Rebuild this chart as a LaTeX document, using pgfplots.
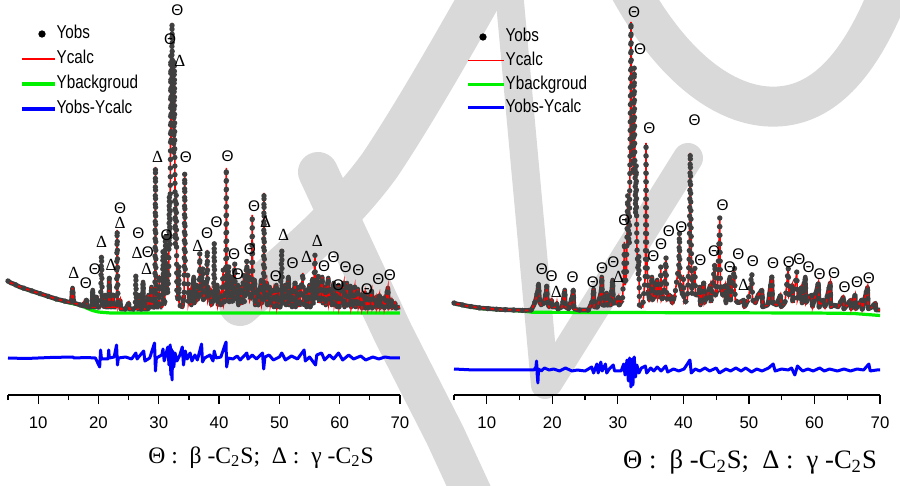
\documentclass[border=0pt]{standalone}
\usepackage{pgfplots}
\pgfplotsset{compat=1.18}
\usepackage{pgfplotstable}
\usepackage{fontspec}
\setmainfont{Liberation Sans}
\newfontfamily\seriffont{Liberation Serif}
\definecolor{wm}{RGB}{217,217,217}
\definecolor{obsgray}{RGB}{64,64,64}
\definecolor{bgreen}{RGB}{0,240,0}
\definecolor{dblue}{RGB}{0,0,255}
\newcommand\tickfont{\fontsize{8.4bp}{10bp}\selectfont}
\newcommand\legfont{\fontsize{9.3bp}{11bp}\selectfont}
\newcommand\Tlab[2]{\node[font=\fontsize{7.7bp}{9bp}\selectfont,inner sep=0pt] at (axis cs:#1,#2) {Θ};}
\newcommand\Dlab[2]{\node[font=\seriffont\fontsize{8.5bp}{9bp}\selectfont,inner sep=0pt] at (axis cs:#1,#2) {Δ};}
\newcommand\LS[1]{\scalebox{0.82}[1]{#1}}

\pgfplotstableread{
x y
5.0 114
5.5 112
6.0 111
7.0 108
8.0 106
9.0 104
10.0 102
11.0 100
12.0 98
13.0 96
14.0 94.5
15.0 93
15.5 92.5
15.6 100
15.7 107
15.8 100
15.9 92
16.5 91
17.0 90
17.5 89
17.6 92
17.7 89
17.9 89
18.0 95
18.1 88
18.9 88
19.05 105
19.2 88
19.6 88
19.7 98
19.8 88
20.35 88
20.45 125
20.5 140
20.55 125
20.65 90
21.0 88
21.1 100
21.2 88
21.7 88
21.8 117
21.9 88
22.3 88
22.4 100
22.5 88
23.0 88
23.05 140
23.1 165
23.15 140
23.25 88
23.6 95
23.7 86
24.5 86
25.0 92
25.1 86
26.1 86
26.2 121
26.3 86
26.6 86
26.7 100
26.8 86
27.3 86
27.4 113
27.5 86
28.2 86
28.3 100
28.4 88
28.7 88
28.8 108
28.9 88
29.35 88
29.4 160
29.45 228
29.5 160
29.55 88
30.0 88
30.1 120
30.2 88
30.6 88
30.7 145
30.8 90
31.0 92
31.1 160
31.2 100
31.35 130
31.45 100
31.65 120
31.75 200
31.85 150
31.95 250
32.0 340
32.05 250
32.15 300
32.2 372
32.28 280
32.4 300
32.48 240
32.58 335
32.65 250
32.75 150
32.9 200
33.0 100
33.25 95
33.3 130
33.4 90
33.9 88
34.2 100
34.3 222
34.4 120
34.8 120
34.9 92
35.3 105
35.4 90
35.8 118
35.9 92
36.3 110
36.4 95
36.7 100
36.8 142
36.9 100
37.3 128
37.4 95
37.8 112
37.9 100
38.05 145
38.15 95
38.6 105
38.7 90
39.1 95
39.2 153
39.3 95
39.7 110
39.8 90
40.2 100
40.3 90
40.7 125
40.8 92
41.1 100
41.2 227
41.3 100
41.6 130
41.7 92
42.1 118
42.2 92
42.6 132
42.7 95
43.1 110
43.2 90
43.6 108
43.7 90
44.1 120
44.2 92
44.6 135
44.7 100
45.0 125
45.1 95
45.4 100
45.5 180
45.6 100
45.9 115
46.0 90
46.4 105
46.5 90
47.0 115
47.1 92
47.35 100
47.45 202
47.55 100
47.9 112
48.0 90
48.4 108
48.5 90
49.0 105
49.1 88
49.5 110
49.6 88
50.0 100
50.1 88
50.4 146
50.5 90
51.0 110
51.1 90
51.5 118
51.6 90
52.0 105
52.1 88
52.6 112
52.7 88
53.2 108
53.3 88
53.9 122
54.0 90
54.4 105
54.5 88
55.0 110
55.1 88
55.5 116
55.6 90
55.9 140
56.0 95
56.5 120
56.6 92
57.1 118
57.2 92
57.6 108
57.7 90
58.1 117
58.2 92
58.6 105
58.7 90
59.0 112
59.1 90
59.5 102
59.6 88
59.8 110
59.9 88
60.7 112
60.8 88
61.2 112
61.3 90
61.8 109
61.9 88
62.5 108
62.6 88
63.0 106
63.1 88
63.6 100
63.7 87
64.2 102
64.3 87
64.6 100
64.7 87
65.3 104
65.4 87
66.0 98
66.1 87
66.6 100
66.7 87
67.3 97
67.4 87
68.0 107
68.1 87
68.6 95
68.7 87
69.2 92
69.3 87
70.0 88
}\obsL

\pgfplotstableread{
x y
5 113.5
6 110.5
7 107.5
8 105.5
9 103.5
10 101.5
11 99.5
12 97.5
13 95.5
14 94
15 92.5
16 91
17 89.5
18 87
19 84.5
20 83
22 82
70 82
}\bgL

\pgfplotstableread{
x y
5 37
8 36.5
12 37.5
15.7 38
16 37
18 37.5
19.5 37
20.2 28
20.35 45
20.5 36
21.6 36
21.7 45
21.8 37
22.6 38
23.0 50
23.15 30
23.3 37
24.5 38
25.5 36
26.2 42
26.4 36
27.5 44
27.7 34
28.5 37
29.3 52
29.45 24
29.6 37
30.5 40
30.7 46
30.9 34
31.5 48
31.7 30
31.9 50
32.0 20
32.1 46
32.2 15
32.3 44
32.5 28
32.7 42
33.0 34
33.5 40
33.9 48
34.1 30
34.4 44
34.7 36
35.2 42
35.5 34
36.0 40
36.4 35
37.1 51
37.25 33
37.6 37
38.5 40
39.0 34
39.2 44
39.5 37
40.3 38
41.15 53
41.25 28
41.5 37
42.3 36
43.0 39
43.5 35
44.6 42
44.8 36
45.5 40
46.2 36
47.2 42
47.4 26
47.6 38
48.3 40
49.0 35
50 38
50.4 42
51 35
52 39
53 36
54.1 45
54.3 34
55 38
56 30
56.2 40
57 42
57.5 35
58.3 40
59 36
59.8 42
60.5 35
61.5 40
62.3 36
63.5 39
64.3 35
65.5 38
66.5 36
67.5 38
68.5 37
70 37
}\difL

\pgfplotstableread{
x y
5.0 92
5.5 91
6.0 90.5
7.0 89
8.0 88
9.0 87
10.0 86.5
12.0 85.5
14.0 85
16.0 84.5
16.8 85
17.2 90
17.5 96
17.8 105
17.9 111
18.0 100
18.1 92
18.3 90
18.7 92
19.1 104
19.15 109
19.25 92
19.5 88
19.9 95
20.0 88
20.6 88
20.7 92
20.8 86
21.5 88
21.9 105
22.0 88
22.5 86
23.1 100
23.2 105
23.3 86
24.0 85
25.5 85
26.2 95
26.3 106
26.4 88
26.9 88
27.5 105
27.55 118
27.65 90
28.2 90
28.3 102
28.4 90
28.9 90
29.2 115
29.3 92
29.8 92
30.1 98
30.2 90
30.7 95
30.9 120
31.0 153
31.1 110
31.3 120
31.5 200
31.6 160
31.75 150
31.9 280
32.0 373
32.08 300
32.15 240
32.25 280
32.35 220
32.5 328
32.58 240
32.7 180
32.8 230
32.9 150
33.1 120
33.2 140
33.3 90
33.8 88
34.2 120
34.3 252
34.4 140
34.6 105
34.8 95
35.1 100
35.2 118
35.3 95
35.7 100
36.0 115
36.1 98
36.5 110
36.55 128
36.65 95
37.0 100
37.35 138
37.45 95
37.9 100
38.3 92
38.7 100
39.3 130
39.4 163
39.5 110
39.9 100
40.0 120
40.1 92
40.6 95
40.9 140
41.05 242
41.15 180
41.3 100
41.75 127
41.85 100
42.3 100
42.5 108
42.6 90
43.1 112
43.2 92
43.7 100
44.1 110
44.2 92
44.8 132
44.9 100
45.2 105
45.55 177
45.65 110
46.0 100
46.4 110
46.5 92
47.1 118
47.2 95
47.8 128
47.9 95
48.4 92
49.2 95
49.3 88
49.9 95
50.45 122
50.55 95
51.0 92
51.4 100
52.0 105
52.1 88
52.9 90
53.5 118
53.6 92
54.2 90
54.8 100
54.9 88
55.5 92
56.0 127
56.1 100
56.6 110
56.7 92
57.3 123
57.4 95
58.0 108
58.1 92
58.6 118
58.7 92
59.1 98
59.6 100
59.7 88
60.6 112
60.7 88
61.3 95
61.6 88
62.4 112
62.5 88
63.0 90
63.6 88
64.4 98
64.5 86
65.0 90
65.5 95
65.6 86
66.2 100
66.3 86
67.2 95
67.3 86
68.1 108
68.2 86
68.8 88
69.3 92
69.4 85
70.0 85
}\obsR

\pgfplotstableread{
x y
5 91.5
6 90
7 88.5
8 87.5
9 86.5
10 86
12 85
14 84.5
16 83.5
17 82.7
40 82.3
60 82
66 81.5
70 79.5
}\bgR

\pgfplotstableread{
x y
5 26
8 25
12 25
16 25
17.2 25
17.5 28
17.6 34
17.7 20
17.8 12
17.9 26
18.3 24
18.8 27
19.5 25
20.2 26
21.1 24
22.0 27
23.0 24
23.8 25
25.0 24
26.0 28
26.3 22
26.8 31
27.0 22
27.4 33
27.6 24
28.1 31
28.3 22
28.7 26
29.3 30
29.5 24
30.5 24
30.9 31
31.1 20
31.4 35
31.6 14
31.8 37
32.0 8
32.2 36
32.3 10
32.5 38
32.7 18
32.9 30
33.2 22
33.6 27
34.2 29
34.4 22
35.0 27
35.5 24
36.0 28
36.6 24
37.3 29
37.6 23
38.5 26
39.3 24
40.1 26
41.0 35
41.2 22
41.8 26
42.5 24
43.3 27
44.0 24
45.0 27
45.5 22
46.5 26
47.2 24
48.0 27
48.8 24
49.5 27
50.4 23
51.2 26
52.0 24
53.0 27
53.7 31
54.0 24
55.0 26
56.0 25
56.5 27
57.0 20
57.4 29
58.2 24
59.0 26
59.8 24
60.8 27
61.5 24
62.3 26
63.5 24
64.5 26
65.5 24
66.5 26
67.5 25
68.3 31
68.5 24
69.5 25
70 25
}\difR

\pgfplotsset{
  xrdaxis/.style={
    scale only axis, height=197.5bp,
    xmin=5, xmax=70, ymin=0, ymax=395,
    axis x line*=bottom, hide y axis,
    x axis line style={-, line width=0.6bp},
    xtick={10,20,...,70}, minor xtick={5,15,...,65},
    tick align=outside, major tick length=4.5bp, minor tick length=2.5bp,
    every tick/.style={black, line width=0.6bp},
    xticklabel style={font=\tickfont, yshift=-3bp},
    /pgf/number format/assume math mode=true,
    clip=false,
    legend cell align=left,
  },
  obsband/.style={draw=obsgray, line width=2.3bp, line join=round, restrict y to domain=0:118, unbounded coords=jump, forget plot},
  obsstyle/.style={draw=obsgray, line width=2.7bp, line cap=round, line join=round, dash pattern=on 0.01bp off 4.3bp, forget plot},
  calcstyle/.style={draw=red, line width=0.8bp, forget plot},
  bgstyle/.style={draw=bgreen, line width=1.6bp, forget plot},
  difstyle/.style={draw=dblue, line width=1.5bp, line join=round, forget plot},
}

\begin{document}
\begin{tikzpicture}
\useasboundingbox (0,0) rectangle (450bp,243bp);
% watermark
\begin{scope}[x=0.5bp, y=-0.5bp, shift={(0bp,243bp)}, line cap=round, line join=round, draw=wm]
\draw[line width=21bp] (490,-20) .. controls (445,60) and (410,120) .. (380,165) .. controls (340,220) and (290,260) .. (240,305);
\draw[line width=20bp] (318,172) -- (393,333) -- (445,435) -- (475,500);
\draw[line width=14bp] (508,-20) -- (545,385);
\draw[line width=15bp] (548,382) -- (688,158);
\draw[line width=20bp] (630,-10) .. controls (680,80) and (740,115) .. (790,105) .. controls (840,95) and (870,40) .. (890,-10);
\end{scope}

% ---------------- left panel
\begin{axis}[xrdaxis, at={(4bp,45.5bp)}, anchor=south west, width=196bp,
  legend style={at={(axis description cs:0,1)}, anchor=north west, xshift=6bp, yshift=-12.5bp,
    draw=none, fill=none, font=\legfont, inner sep=0pt, row sep=3.9bp,
    nodes={inner sep=0pt, text height=6.8bp, text depth=1.8bp},
    /tikz/every even column/.append style={column sep=2bp}},
]
\addlegendimage{legend image code/.code={\fill[black] (10bp,0bp) circle (1.6bp);}}
\addlegendentry{\LS{Yobs}}
\addlegendimage{legend image code/.code={\draw[red, line width=0.6bp] (0bp,0bp) -- (16.5bp,0bp);}}
\addlegendentry{\LS{Ycalc}}
\addlegendimage{legend image code/.code={\draw[bgreen, line width=1.6bp] (0bp,0bp) -- (16.5bp,0bp);}}
\addlegendentry{\LS{Ybackgroud}}
\addlegendimage{legend image code/.code={\draw[dblue, line width=1.6bp] (0bp,0bp) -- (16.5bp,0bp);}}
\addlegendentry{\LS{Yobs-Ycalc}}
\addplot[bgstyle] table {\bgL};
\addplot[obsband] table {\obsL};
\addplot[calcstyle] table {\obsL};
\addplot[obsstyle] table {\obsL};
\addplot[difstyle] table {\difL};
\Dlab{15.9}{121.7}
\Tlab{17.9}{112.3}
\Tlab{19.4}{126}
\Dlab{20.5}{153}
\Dlab{22.1}{130}
\Dlab{23.6}{172.3}
\Tlab{23.6}{186.7}
\Tlab{26.6}{161.7}
\Dlab{26.4}{141.7}
\Tlab{28.2}{143.3}
\Dlab{28.0}{126}
\Dlab{29.8}{238.3}
\Tlab{31.3}{160}
\Tlab{34.5}{237.7}
\Tlab{41.4}{239}
\Dlab{36.5}{149.3}
\Tlab{38.0}{161.7}
\Tlab{39.6}{172.3}
\Tlab{42.5}{140.7}
\Tlab{43.1}{120.7}
\Tlab{45.1}{145.7}
\Tlab{45.8}{188.3}
\Dlab{47.7}{173.3}
\Tlab{49.4}{119}
\Dlab{50.7}{160}
\Tlab{52.2}{131.7}
\Dlab{54.5}{137.7}
\Dlab{56.3}{154.3}
\Tlab{57.4}{129}
\Tlab{59.0}{138.3}
\Tlab{59.8}{110}
\Tlab{61.0}{128.3}
\Tlab{63.1}{125}
\Tlab{64.5}{105.7}
\Tlab{66.4}{115.7}
\Tlab{68.3}{120}
\Tlab{33.1}{384.3}
\Tlab{31.9}{355.7}
\Dlab{33.5}{334.3}
\end{axis}

% ---------------- right panel
\begin{axis}[xrdaxis, at={(227bp,45.5bp)}, anchor=south west, width=213bp,
  legend style={at={(axis description cs:0,1)}, anchor=north west, xshift=6bp, yshift=-14bp,
    draw=none, fill=none, font=\legfont, inner sep=0pt, row sep=3.2bp,
    nodes={inner sep=0pt, text height=6.8bp, text depth=1.8bp},
    /tikz/every even column/.append style={column sep=2.5bp}},
]
\addlegendimage{legend image code/.code={\fill[black] (7.5bp,0bp) circle (1.6bp);}}
\addlegendentry{\LS{Yobs}}
\addlegendimage{legend image code/.code={\draw[red, line width=0.6bp] (0bp,0bp) -- (18bp,0bp);}}
\addlegendentry{\LS{Ycalc}}
\addlegendimage{legend image code/.code={\draw[bgreen, line width=1.6bp] (0bp,0bp) -- (18bp,0bp);}}
\addlegendentry{\LS{Ybackgroud}}
\addlegendimage{legend image code/.code={\draw[dblue, line width=1.6bp] (0bp,0bp) -- (18bp,0bp);}}
\addlegendentry{\LS{Yobs-Ycalc}}
\addplot[bgstyle] table {\bgR};
\addplot[obsband] table {\obsR};
\addplot[calcstyle] table {\obsR};
\addplot[obsstyle] table {\obsR};
\addplot[difstyle] table {\difR};
\Tlab{18.4}{125.7}
\Tlab{19.9}{119}
\Dlab{20.6}{103.3}
\Tlab{23.1}{118.3}
\Tlab{26.2}{113}
\Tlab{27.6}{126.7}
\Tlab{29.3}{132.7}
\Dlab{30.1}{118.3}
\Tlab{31.0}{174.3}
\Tlab{35.4}{139}
\Tlab{36.6}{150.7}
\Tlab{37.8}{164}
\Tlab{39.7}{167.7}
\Tlab{42.6}{135}
\Tlab{44.7}{144}
\Tlab{46.0}{190}
\Tlab{47.1}{128}
\Tlab{48.4}{141}
\Dlab{49.2}{110}
\Tlab{50.6}{134}
\Tlab{53.7}{131.7}
\Tlab{56.1}{133.3}
\Tlab{57.7}{135.7}
\Tlab{59.1}{128.3}
\Tlab{60.8}{120.7}
\Tlab{63.0}{122.3}
\Tlab{64.6}{108.3}
\Tlab{66.5}{113.3}
\Tlab{68.3}{116.7}
\Tlab{32.5}{382.7}
\Tlab{33.4}{345.7}
\Tlab{34.8}{266.7}
\Tlab{41.7}{275}
\end{axis}

% captions
\node[font=\seriffont\fontsize{11.8bp}{13bp}\selectfont, anchor=base] at (130.5bp,11.5bp) {Θ :\ \ β -C\textsubscript{2}S;\ \ Δ :\ \ γ -C\textsubscript{2}S};
\node[font=\seriffont\fontsize{13.3bp}{15bp}\selectfont, anchor=base] at (375bp,8.8bp) {Θ :\ \ β -C\textsubscript{2}S;\ \ Δ :\ \ γ -C\textsubscript{2}S};
\end{tikzpicture}
\end{document}
